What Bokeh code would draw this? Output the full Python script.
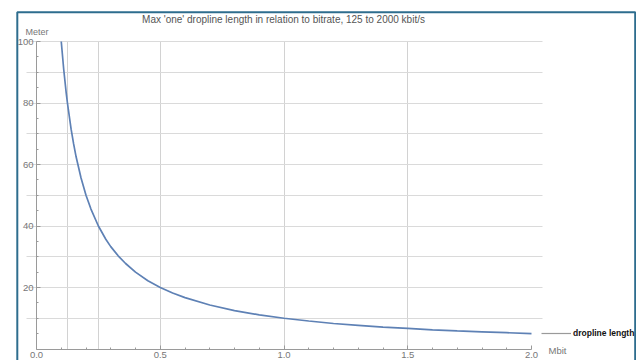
from bokeh.plotting import figure
from bokeh.models import (Range1d, LinearAxis, FixedTicker, Grid, Label, Legend, LegendItem,
                          BoxAnnotation, PrintfTickFormatter)
from bokeh.embed import file_html
from bokeh.resources import INLINE

# ---------------- data ----------------
title_text = "Max 'one' dropline length in relation to bitrate, 125 to 2000 kbit/s"
x_axis_label = "Mbit"
y_axis_label = "Meter"
series_name = "dropline length"

bitrate_mbit = [0.10, 0.11, 0.12, 0.125, 0.14, 0.15, 0.16, 0.18, 0.20, 0.22, 0.25, 0.28,
                0.30, 0.33, 0.36, 0.40, 0.45, 0.50, 0.55, 0.60, 0.70, 0.80, 0.90, 1.00,
                1.10, 1.20, 1.30, 1.40, 1.50, 1.60, 1.70, 1.80, 1.90, 2.00]
length_m = [100.0, 90.9, 83.3, 80.0, 71.4, 66.7, 62.5, 55.6, 50.0, 45.5, 40.0, 35.7,
            33.3, 30.3, 27.8, 25.0, 22.2, 20.0, 18.2, 16.7, 14.3, 12.5, 11.1, 10.0,
            9.1, 8.3, 7.7, 7.1, 6.7, 6.25, 5.9, 5.6, 5.3, 5.0]

x_major_ticks = [0.0, 0.5, 1.0, 1.5, 2.0]
x_minor_ticks = [0.1, 0.2, 0.3, 0.4, 0.6, 0.7, 0.8, 0.9, 1.1, 1.2, 1.3, 1.4,
                 1.6, 1.7, 1.8, 1.9]
y_major_ticks = [20, 40, 60, 80, 100]
y_minor_ticks = [5, 10, 15, 25, 30, 35, 45, 50, 55, 65, 70, 75, 85, 90, 95]
x_grid_lines = [0.125, 0.25, 0.5, 1.0, 1.5]
y_grid_lines = [10, 20, 30, 40, 50, 60, 70, 80, 90, 100]

# ---------------- layout helpers (page pixels -> data) ----------------
W, H = 636, 360
X0, XS = 36.0, 247.5      # page x of x=0, px per Mbit
Y0, YS = 348.5, 3.075     # page y of y=0, px per meter


def xd(px):
    return (px - X0) / XS


def yd(py):
    return (Y0 - py) / YS


FONT = "Liberation Sans"
AX = "#9a9a9a"
TXT = "#777777"

p = figure(width=W, height=H,
           x_range=Range1d(xd(0), xd(W)), y_range=Range1d(yd(H), yd(0)),
           x_axis_type=None, y_axis_type=None,
           toolbar_location=None, output_backend="svg",
           min_border=0, outline_line_color=None,
           background_fill_color="white", border_fill_color="white")

vgrid = Grid(dimension=0, ticker=FixedTicker(ticks=x_grid_lines),
             bounds=(0.0, 2.0), cross_bounds=(0, 100),
             grid_line_color="#d2d2d2", grid_line_width=1)
hgrid = Grid(dimension=1, ticker=FixedTicker(ticks=y_grid_lines),
             bounds=(0, 101), cross_bounds=(xd(26), xd(542)),
             grid_line_color="#dadada", grid_line_width=1)
p.add_layout(vgrid)
p.add_layout(hgrid)


def style_axis(ax):
    ax.axis_line_color = AX
    ax.major_tick_line_color = AX
    ax.minor_tick_line_color = AX
    ax.major_tick_in = 4
    ax.major_tick_out = 0
    ax.minor_tick_in = 2
    ax.minor_tick_out = 0
    ax.major_label_text_color = TXT
    ax.major_label_text_font = FONT
    ax.major_label_text_font_size = "9.5px"
    ax.major_label_standoff = 3


yaxis = LinearAxis(fixed_location=0, bounds=(0, 100),
                   ticker=FixedTicker(ticks=y_major_ticks, minor_ticks=y_minor_ticks))
style_axis(yaxis)
p.add_layout(yaxis, "left")

xaxis = LinearAxis(fixed_location=0, bounds=(0, 2.0),
                   ticker=FixedTicker(ticks=x_major_ticks, minor_ticks=x_minor_ticks),
                   formatter=PrintfTickFormatter(format="%.1f"))
style_axis(xaxis)
p.add_layout(xaxis, "below")

curve = p.line(bitrate_mbit, length_m, line_color="#5E81B5", line_width=1.7)
swatch = p.line(bitrate_mbit, length_m, line_color="#9a9a9a", line_width=1.2, visible=False)

legend = Legend(items=[LegendItem(label=series_name, renderers=[swatch])],
                location=(541, 22), orientation="vertical",
                glyph_width=30, glyph_height=10, label_height=10, label_width=10,
                label_standoff=2, padding=0, spacing=0, margin=0,
                border_line_color=None, background_fill_alpha=0,
                label_text_font=FONT, label_text_font_size="8.5px",
                label_text_font_style="bold", label_text_color="#111111")
p.add_layout(legend)

p.add_layout(Label(x=xd(283), y=yd(19), text=title_text, text_align="center",
                   text_baseline="middle", text_font=FONT, text_font_size="10px",
                   text_color="#555555"))
p.add_layout(Label(x=xd(36.5), y=yd(31.5), text=y_axis_label, text_align="center",
                   text_baseline="middle", text_font=FONT, text_font_size="9px",
                   text_color=TXT))
p.add_layout(Label(x=xd(548), y=yd(350), text=x_axis_label, text_align="left",
                   text_baseline="middle", text_font=FONT, text_font_size="9.5px",
                   text_color=TXT))

border = BoxAnnotation(left=xd(16.8), right=xd(634.7), top=yd(11.7), bottom=yd(375),
                       fill_alpha=0.0,
                       line_color="#2E6D8E", line_width=2, line_alpha=1.0)
p.add_layout(border)

open("out.html", "w").write(file_html(p, INLINE))
